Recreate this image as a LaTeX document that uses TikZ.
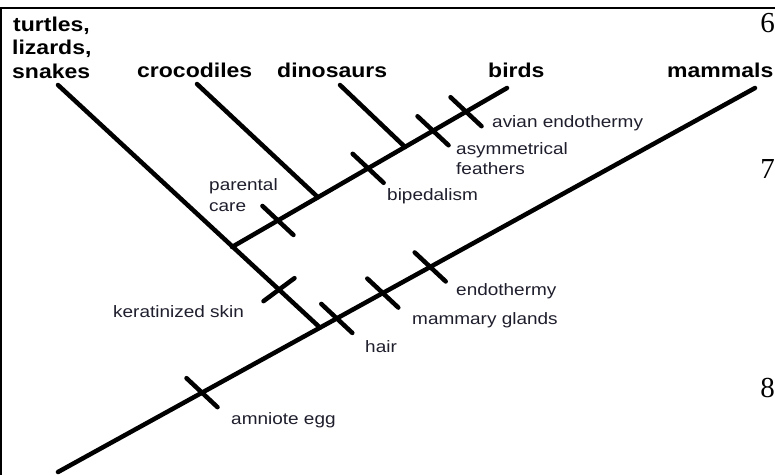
\documentclass[tikz,border=0pt]{standalone}
\usepackage{fontspec}
\setmainfont{Liberation Sans}
\newfontfamily\lblfont[FakeStretch=1.15]{Liberation Sans}
\newfontfamily\numfont{Liberation Serif}
\usetikzlibrary{calc}
\definecolor{lbl}{RGB}{30,30,45}
\begin{document}
\begin{tikzpicture}[x=1pt,y=-1pt,
  branch/.style={line width=4.5pt,line cap=round},
  tickmark/.style={line width=4.5pt,line cap=round},
  taxon/.style={font=\lblfont\bfseries\fontsize{20}{23.5}\selectfont,anchor=base west,inner sep=0pt},
  trait/.style={font=\lblfont\fontsize{16.5}{20.5}\selectfont,text=lbl,anchor=base west,inner sep=0pt},
  pagenum/.style={font=\numfont\fontsize{29}{29}\selectfont,anchor=base east,inner sep=0pt},
  framerule/.style={line width=2pt}]
\useasboundingbox (0,0) rectangle (775,475);
% frame
\coordinate (f0) at (0,7.5);
\coordinate (f1) at (775,7.5);
\coordinate (f2) at (1,7);
\coordinate (f3) at (1,475);
\draw[framerule] (f0) -- (f1);
\draw[line width=1.5pt] (f2) -- (f3);
% tree coordinates
\coordinate (root) at (58,472);
\coordinate (mtop) at (755,88);
\coordinate (J1) at (320,327.6);
\coordinate (tt) at (58,85);
\coordinate (J2) at (232,247);
\coordinate (bt) at (507,88);
\coordinate (J3) at (318,197.3);
\coordinate (ct) at (197,84);
\coordinate (J4) at (405,147);
\coordinate (dt) at (340,85);
% branches
\draw[branch] (root) -- (mtop);
\draw[branch] (tt) -- (J1);
\draw[branch] (J2) -- (bt);
\draw[branch] (ct) -- (J3);
\draw[branch] (dt) -- (J4);
% tick positions
\coordinate (kAmn) at ($(root)!0.2066!(mtop)$);
\coordinate (kHair) at ($(root)!0.400!(mtop)$);
\coordinate (kMam) at ($(root)!0.466!(mtop)$);
\coordinate (kEnd) at ($(root)!0.534!(mtop)$);
\coordinate (kPar) at ($(J2)!0.167!(bt)$);
\coordinate (kBip) at ($(J2)!0.495!(bt)$);
\coordinate (kAsy) at ($(J2)!0.731!(bt)$);
\coordinate (kAvi) at ($(J2)!0.851!(bt)$);
\coordinate (kKer) at ($(tt)!0.8435!(J1)$);
\foreach \k in {kAmn,kHair,kMam,kEnd,kPar,kBip,kAsy,kAvi}{
  \draw[tickmark] ($(\k)+(-15.5,-14.5)$) -- ($(\k)+(15.5,14.5)$);
}
\draw[tickmark] ($(kKer)+(-15.5,11.5)$) -- ($(kKer)+(15.5,-11.5)$);
% taxa
\node[taxon] (tx1) at (13,31) {turtles,};
\node[taxon] (tx2) at (12,54.5) {lizards,};
\node[taxon] (tx3) at (12,78) {snakes};
\node[taxon] (croc) at (137,77) {crocodiles};
\node[taxon] (dino) at (277,77) {dinosaurs};
\node[taxon] (bird) at (488,77) {birds};
\node[taxon] (mamm) at (667,77) {mammals};
% traits
\node[trait] (avi) at (492,127) {avian endothermy};
\node[trait] (asy1) at (456,154) {asymmetrical};
\node[trait] (asy2) at (456,174) {feathers};
\node[trait] (bip) at (387,200) {bipedalism};
\node[trait] (par1) at (209,190) {parental};
\node[trait] (par2) at (209,211) {care};
\node[trait] (ker) at (113,317) {keratinized skin};
\node[trait] (hair) at (365,352) {hair};
\node[trait] (amn) at (231,424) {amniote egg};
\node[trait] (endo) at (456,295.5) {endothermy};
\node[trait] (mam) at (412,324) {mammary glands};
% page numbers at right edge
\node[pagenum] (p6) at (775,32) {6};
\node[pagenum] (p7) at (775,178) {7};
\node[pagenum] (p8) at (775,397) {8};
\end{tikzpicture}
\end{document}
